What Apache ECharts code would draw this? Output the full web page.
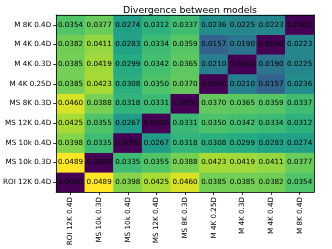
<!DOCTYPE html>
<html><head><meta charset="utf-8">
<script src="https://cdn.jsdelivr.net/npm/echarts@6/dist/echarts.min.js"></script>
<style>html,body{margin:0;padding:0;background:#fff}#c{width:332px;height:249px}</style>
</head><body><div id="c"></div>
<script>
const models = ["ROI 12K 0.4D","MS 10k 0.3D","MS 10k 0.4D","MS 12K 0.4D","MS 8K 0.3D","M 4K 0.25D","M 4K 0.3D","M 4K 0.4D","M 8K 0.4D"];
const rowROI12K04 = [0.0000,0.0489,0.0398,0.0425,0.0460,0.0385,0.0385,0.0382,0.0354];
const rowMS10k03  = [0.0489,0.0000,0.0335,0.0355,0.0388,0.0423,0.0419,0.0411,0.0377];
const rowMS10k04  = [0.0398,0.0335,0.0000,0.0267,0.0318,0.0308,0.0299,0.0283,0.0274];
const rowMS12K04  = [0.0425,0.0355,0.0267,0.0000,0.0331,0.0350,0.0342,0.0334,0.0312];
const rowMS8K03   = [0.0460,0.0388,0.0318,0.0331,0.0000,0.0370,0.0365,0.0359,0.0337];
const rowM4K025   = [0.0385,0.0423,0.0308,0.0350,0.0370,0.0000,0.0210,0.0157,0.0236];
const rowM4K03    = [0.0385,0.0419,0.0299,0.0342,0.0365,0.0210,0.0000,0.0190,0.0225];
const rowM4K04    = [0.0382,0.0411,0.0283,0.0334,0.0359,0.0157,0.0190,0.0000,0.0223];
const rowM8K04    = [0.0354,0.0377,0.0274,0.0312,0.0337,0.0236,0.0225,0.0223,0.0000];
const rows = [rowROI12K04,rowMS10k03,rowMS10k04,rowMS12K04,rowMS8K03,rowM4K025,rowM4K03,rowM4K04,rowM8K04];

const data = [];
rows.forEach((r, yi) => r.forEach((v, xi) => data.push([xi, yi, v])));

const viridis = ['#440154','#482475','#414487','#355f8d','#2a788e','#21918c','#22a884','#44bf70','#7ad151','#bddf26','#fde725'];
const font = 'DejaVu Sans';
const chart = echarts.init(document.getElementById('c'), null, {renderer:'canvas'});
chart.setOption({
  animation:false,
  backgroundColor:'#fff',
  title:{text:'Divergence between models', left:185, top:1, textAlign:'center',
    textStyle:{fontFamily:font,fontSize:9.4,fontWeight:'normal',color:'#000'}},
  grid:{left:56, right:18, top:15, bottom:57},
  xAxis:[{type:'category', data:models, position:'bottom',
    axisLine:{show:true,lineStyle:{color:'#000',width:0.8}},
    axisTick:{show:true,alignWithLabel:true,length:3,lineStyle:{color:'#000',width:0.8}},
    axisLabel:{rotate:90,interval:0,fontFamily:font,fontSize:7.2,color:'#000',margin:5},
    splitLine:{show:false}, z:10},
    {type:'category', data:models, position:'top',
    axisLine:{show:true,lineStyle:{color:'#000',width:0.8}},
    axisTick:{show:false}, axisLabel:{show:false}, z:10}],
  yAxis:[{type:'category', data:models, position:'left',
    axisLine:{show:true,lineStyle:{color:'#000',width:0.8}},
    axisTick:{show:true,alignWithLabel:true,length:3,lineStyle:{color:'#000',width:0.8}},
    axisLabel:{interval:0,fontFamily:font,fontSize:7.2,color:'#000',margin:5},
    splitLine:{show:false}, z:10},
    {type:'category', data:models, position:'right',
    axisLine:{show:true,lineStyle:{color:'#000',width:0.8}},
    axisTick:{show:false}, axisLabel:{show:false}, z:10}],
  visualMap:{show:false, min:0, max:0.0489, dimension:2, inRange:{color:viridis}},
  series:[{type:'heatmap', data:data, xAxisIndex:0, yAxisIndex:0,
    label:{show:true, fontFamily:font, fontSize:7.2, color:'#000',
      formatter:p=>p.value[2].toFixed(4)},
    itemStyle:{borderWidth:0}}]
});
</script></body></html>
